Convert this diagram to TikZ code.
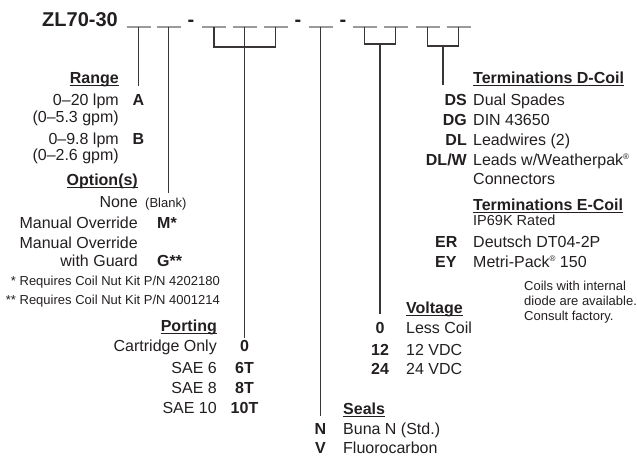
\documentclass[tikz,border=0pt]{standalone}
\usepackage{fontspec}
\setmainfont{Liberation Sans}
\usetikzlibrary{calc}
\definecolor{ink}{HTML}{231F20}
\definecolor{slotgray}{HTML}{9A9A9A}
\newcommand{\regmark}{\raisebox{5.5pt}{\fontsize{8}{8}\selectfont ®}}
\tikzset{
  txt/.style={inner sep=0pt, text=ink, font=\fontsize{16}{19}\selectfont},
  lbl/.style={txt, anchor=base east},
  val/.style={txt, anchor=base west},
  code/.style={txt, anchor=base, font=\fontsize{16}{19}\selectfont\bfseries},
  codel/.style={code, anchor=base west},
  codee/.style={code, anchor=base east},
  hd/.style={code},
  note/.style={inner sep=0pt, text=ink, font=\fontsize{13}{15}\selectfont},
  title/.style={inner sep=0pt, text=ink, font=\fontsize{20}{24}\selectfont\bfseries},
  wire/.style={draw=ink!90, line width=1.3pt},
  slot/.style={draw=slotgray, line width=1.3pt},
  uline/.style={draw=ink, line width=1.1pt}
}

\begin{document}
\begin{tikzpicture}[x=1pt,y=-1pt]
\useasboundingbox (0,0) rectangle (637,456);

% part number with its blanks
\node[title,anchor=base east] (pn) at (118,26) {ZL70-30};
\foreach \x [count=\i] in {191,298,343}
  \node[title,anchor=base] (dash\i) at (\x,26) {-};
\foreach \c [count=\i] in {138.5,168.5,214,244.5,275.5,320.5,364.5,395.5,427.5,458.5}{
  \coordinate (s\i) at (\c,27);
  \draw[slot] ($(s\i)+(-12,0)$) -- ($(s\i)+(12,0)$);
}

% Range
\node[hd,anchor=base east] (rangeH) at (119,83) {Range};
\node[lbl] (r1) at (119,105) {0--20 lpm};
\node[code] (rangeA) at (138.5,105) {A};
\node[lbl] (r1b) at (119,122) {(0--5.3 gpm)};
\node[lbl] (r2) at (119,144) {0--9.8 lpm};
\node[code] (rangeB) at (138.5,144) {B};
\node[lbl] (r2b) at (119,160) {(0--2.6 gpm)};

% Option(s)
\node[hd,anchor=base east] (optH) at (138,185) {Option(s)};
\node[lbl] (o1) at (138,207) {None};
\node[note,anchor=base west] (optBlank) at (145,207) {(Blank)};
\node[lbl] (o2) at (138,228) {Manual Override};
\node[codel] (optM) at (157,228) {M*};
\node[lbl] (o3) at (138,248) {Manual Override};
\node[lbl] (o3b) at (138,266) {with Guard};
\node[codel] (optG) at (157,266) {G**};
\node[note,anchor=base east] (fn1) at (220,285) {* Requires Coil Nut Kit P/N 4202180};
\node[note,anchor=base east] (fn2) at (220,304) {** Requires Coil Nut Kit P/N 4001214};

% Porting
\node[hd,anchor=base east] (portH) at (217,331) {Porting};
\foreach \t/\c/\y [count=\i] in {Cartridge Only/0/351, SAE 6/6T/373, SAE 8/8T/393, SAE 10/10T/413}{
  \node[lbl] (p\i) at (217,\y) {\t};
  \node[code] (port\i) at (244.5,\y) {\c};
}

% Seals
\node[hd,anchor=base west] (sealH) at (343,414) {Seals};
\node[code] (sealN) at (320.5,434) {N};
\node[val] (sl1) at (343,434) {Buna N (Std.)};
\node[code] (sealV) at (320.5,453) {V};
\node[val] (sl2) at (343,453) {Fluorocarbon};

% Voltage
\node[hd,anchor=base west] (voltH) at (406,313) {Voltage};
\foreach \c/\t/\y [count=\i] in {0/Less Coil/333, 12/12 VDC/355, 24/24 VDC/374}{
  \node[code] (volt\i) at (380,\y) {\c};
  \node[val] (vt\i) at (406,\y) {\t};
}

% Terminations
\node[hd,anchor=base west] (termDH) at (473,83) {Terminations D-Coil};
\foreach \c/\t/\y [count=\i] in {DS/Dual Spades/105, DG/DIN 43650/125, DL/Leadwires (2)/145, {DL/W}/{Leads w/Weatherpak\regmark}/165}{
  \node[codee] (termD\i) at (467,\y) {\c};
  \node[val] (td\i) at (473,\y) {\t};
}
\node[val] (td5) at (473,184) {Connectors};
\node[hd,anchor=base west] (termEH) at (473,210) {Terminations E-Coil};
\node[txt,anchor=base west,font=\fontsize{14.5}{17}\selectfont] (ip) at (473,225) {IP69K Rated};
\node[codel] (termER) at (435,247) {ER};
\node[val] (te1) at (473,247) {Deutsch DT04-2P};
\node[codel] (termEY) at (435,267) {EY};
\node[val] (te2) at (473,267) {Metri-Pack\regmark{} 150};
\node[note,anchor=base west] (n1) at (524,290) {Coils with internal};
\node[note,anchor=base west] (n2) at (524,305) {diode are available.};
\node[note,anchor=base west] (n3) at (524,320) {Consult factory.};

% underlined headings
\foreach \h in {rangeH,optH,portH,sealH,voltH,termDH,termEH}
  \draw[uline] ($(\h.base west)+(0,2.5)$) -- ($(\h.base east)+(0,2.5)$);

% connectors
\draw[wire] (s1) -- ($(s1 |- rangeA.north)+(0,-8)$);
\draw[wire] (s2) -- ($(s2 |- optBlank.north)+(0,-4)$);
\draw[wire] (s3) -- ++(0,20) -| (s5);
\draw[wire] (s4) -- ($(port1.north)+(0,-1.5)$);
\draw[wire] (s6) -- ($(sealN.north)+(0,-7)$);
\draw[wire] (s7) -- ++(0,17) -| (s8);
\coordinate (vj) at ($(s7)!0.5!(s8)+(0,17)$);
\draw[wire] (vj) -- ($(vj |- volt1.north)+(0,-8)$);
\draw[wire] (s9) -- ++(0,19) -| (s10);
\coordinate (tj) at ($(s9)!0.5!(s10)+(0,19)$);
\coordinate (tend) at (443,85);
\draw[wire] (tj) -- (tj |- tend);
\end{tikzpicture}
\end{document}
